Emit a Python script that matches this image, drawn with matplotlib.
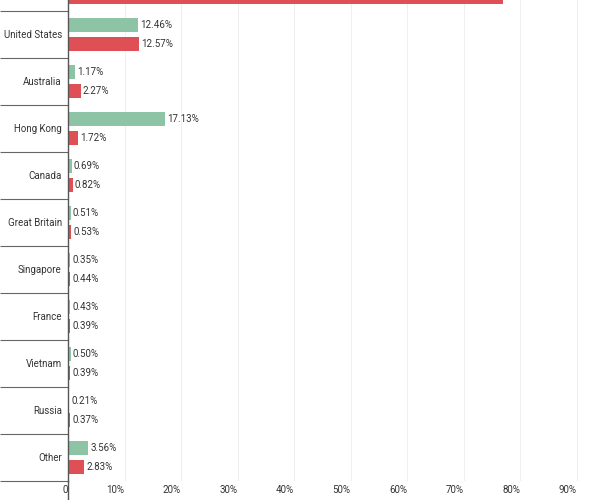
import matplotlib
matplotlib.use("Agg")
import matplotlib.pyplot as plt
import matplotlib.transforms as mtransforms
from matplotlib.lines import Line2D
import numpy as np

plt.rcParams['font.family'] = ['Roboto', 'DejaVu Sans']

# top row is cut off in the reference, its name is a guess
countries = ['China', 'United States', 'Australia', 'Hong Kong', 'Canada',
             'Great Britain', 'Singapore', 'France', 'Vietnam', 'Russia', 'Other']
share_green = [62.99, 12.46, 1.17, 17.13, 0.69, 0.51, 0.35, 0.43, 0.50, 0.21, 3.56]
share_red = [77.03, 12.57, 2.27, 1.72, 0.82, 0.53, 0.44, 0.39, 0.39, 0.37, 2.83]
x_ticks = [0, 10, 20, 30, 40, 50, 60, 70, 80, 90]
x_labels = ['0', '10%', '20%', '30%', '40%', '50%', '60%', '70%', '80%', '90%']

GREEN = '#8dc4a6'
RED = '#df4f56'
TXT = '#333333'
FS = 7

fig = plt.figure(figsize=(6, 5), dpi=100)
ax = fig.add_axes([68 / 600, 19 / 500, 532 / 600, 481 / 500])

y = np.arange(len(countries))
off = 0.202
h = 0.30
ax.barh(y - off, share_green, height=h, color=GREEN, zorder=2)
ax.barh(y + off, share_red, height=h, color=RED, zorder=2)

for yi, v in zip(y - off, share_green):
    ax.annotate(f'{v:.2f}%', (v, yi), xytext=(1.5, 0), textcoords='offset points',
                ha='left', va='center', fontsize=FS, color=TXT)
for yi, v in zip(y + off, share_red):
    ax.annotate(f'{v:.2f}%', (v, yi), xytext=(1.5, 0), textcoords='offset points',
                ha='left', va='center', fontsize=FS, color=TXT, annotation_clip=False)

# gridlines
for t in x_ticks[1:]:
    ax.axvline(t, color='#efefef', lw=0.8, zorder=0)

ax.set_xticks(x_ticks)
ax.set_xticklabels(x_labels, fontsize=FS, color=TXT, ha='right')
shift = mtransforms.ScaledTranslation(-3 / 100, 0, fig.dpi_scale_trans)
for lab in ax.get_xticklabels():
    lab.set_transform(lab.get_transform() + shift)
ax.tick_params(axis='x', length=0, pad=3)

ax.set_yticks(y)
ax.set_yticklabels(countries, fontsize=FS, color=TXT)
ax.tick_params(axis='y', which='major', length=0, pad=4.5)
# category separators as long minor ticks
ax.set_yticks(np.arange(0.5, len(countries), 1.0), minor=True)
ax.tick_params(axis='y', which='minor', length=49, width=0.8, color='#666666', direction='out')

# the reference is a crop, the top row sits mostly above the frame
ax.set_xlim(0, 532 / 5.65)
ax.set_ylim(10.5, 0.266)

for s in ['top', 'right', 'bottom']:
    ax.spines[s].set_visible(False)
ax.spines['left'].set_color('#555555')
ax.spines['left'].set_linewidth(1.0)

# axis line runs on below the plot
fig.add_artist(Line2D([68 / 600, 68 / 600], [0, 19 / 500], color='#555555', lw=1.0))

fig.savefig('out.png', dpi=100)
